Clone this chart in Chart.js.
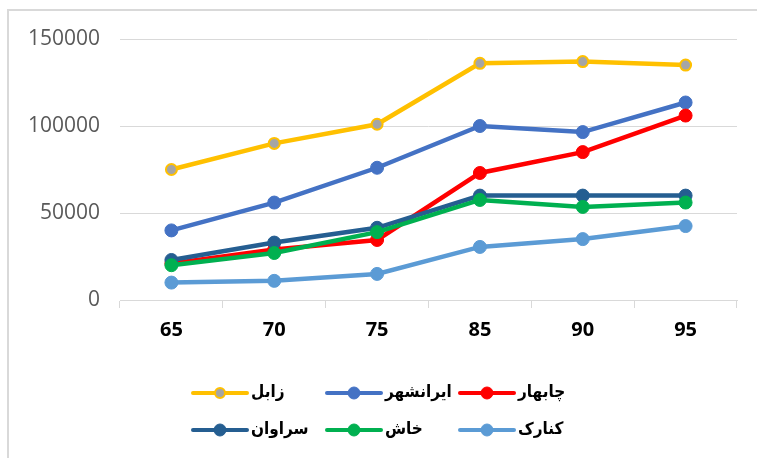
<!DOCTYPE html>
<html>
<head>
<meta charset="utf-8">
<script src="https://cdn.jsdelivr.net/npm/chart.js@4.4.1/dist/chart.umd.min.js"></script>
<style>
  body { margin: 0; background: #fff; }
  #wrap { position: relative; width: 757px; height: 458px; overflow: hidden; }
  #frame {
    position: absolute; left: 7px; top: 9px; width: 800px; height: 460px;
    border-left: 2px solid #d9d9d9; border-top: 2px solid #d9d9d9;
  }
  canvas { position: absolute; left: 0; top: 0; }
</style>
</head>
<body>
<div id="wrap">
  <div id="frame"></div>
  <canvas id="chart" width="757" height="458"></canvas>
</div>
<script>
// Years (x categories)
const years = ["65", "70", "75", "85", "90", "95"];

// Series values
const zabol = [75000, 90000, 101000, 136000, 137000, 135000];
const iranshahr = [40000, 56000, 76000, 100000, 96500, 113500];
const chabahar = [21000, 29000, 34500, 73000, 85000, 106000];
const saravan = [23000, 33000, 41500, 60000, 60000, 60000];
const khash = [20000, 27000, 39000, 57500, 53500, 56000];
const konarak = [10000, 11000, 15000, 30500, 35000, 42500];

const seriesNames = ["زابل", "ایرانشهر", "چابهار", "سراوان", "خاش", "کنارک"];
const seriesValues = [zabol, iranshahr, chabahar, saravan, khash, konarak];
const lineColors = ["#FFC000", "#4472C4", "#FF0000", "#255E91", "#00B050", "#5B9BD5"];

const yTicks = [0, 50000, 100000, 150000];

const datasets = seriesNames.map((name, i) => {
  const isZabol = i === 0;
  return {
    label: name,
    data: seriesValues[i],
    borderColor: lineColors[i],
    backgroundColor: lineColors[i],
    borderWidth: 4.5,
    pointRadius: isZabol ? 5.5 : 6.5,
    pointBorderWidth: isZabol ? 2 : 1,
    pointBackgroundColor: isZabol ? "#A5A5A5" : lineColors[i],
    pointBorderColor: lineColors[i],
    tension: 0,
    // later series sit on top, like the original
    order: seriesNames.length - i,
  };
});

// Legend laid out in fixed columns, two rows of three.
const gridLegend = {
  id: "gridLegend",
  afterDraw(chart) {
    const ctx = chart.ctx;
    const cols = [193, 327, 460];
    const rows = [393, 430];
    ctx.save();
    chart.data.datasets.forEach((ds, i) => {
      const x = cols[i % 3];
      const y = rows[Math.floor(i / 3)];
      ctx.strokeStyle = ds.borderColor;
      ctx.lineWidth = 4;
      ctx.lineCap = "round";
      ctx.beginPath();
      ctx.moveTo(x, y);
      ctx.lineTo(x + 54, y);
      ctx.stroke();
      ctx.beginPath();
      ctx.arc(x + 27, y, ds.pointBorderWidth > 1 ? 5 : 6, 0, Math.PI * 2);
      ctx.fillStyle = ds.pointBackgroundColor;
      ctx.fill();
      ctx.lineWidth = ds.pointBorderWidth;
      ctx.strokeStyle = ds.pointBorderColor;
      ctx.stroke();
      ctx.fillStyle = "#000";
      ctx.font = "bold 17px 'DejaVu Sans Condensed', 'DejaVu Sans'";
      ctx.textAlign = "left";
      ctx.textBaseline = "middle";
      ctx.fillText(ds.label, x + 58, y);
    });
    ctx.restore();
  },
};

new Chart(document.getElementById("chart"), {
  type: "line",
  data: { labels: years, datasets: datasets },
  options: {
    responsive: false,
    animation: false,
    layout: { padding: { left: 0, top: 39, right: 20, bottom: 0 } },
    plugins: {
      legend: { display: false },
      tooltip: { enabled: false },
    },
    scales: {
      x: {
        offset: true,
        grid: {
          offset: true,
          drawOnChartArea: false,
          drawTicks: true,
          tickLength: 8,
          color: "#d9d9d9",
        },
        border: { display: true, color: "#d9d9d9", width: 1 },
        ticks: {
          color: "#000",
          padding: 10,
          font: { family: "'Open Sans'", size: 20, weight: "bold" },
        },
        afterFit(scale) {
          scale.height = 158;
        },
      },
      y: {
        min: 0,
        max: 150000,
        afterBuildTicks(scale) {
          scale.ticks = yTicks.map((v) => ({ value: v }));
        },
        grid: { color: "#d9d9d9", drawTicks: false },
        border: { display: false },
        ticks: {
          color: "#595959",
          padding: 20,
          font: { family: "'Open Sans'", size: 21 },
          callback: (v) => String(v),
        },
        afterFit(scale) {
          scale.width = 120;
        },
      },
    },
  },
  plugins: [gridLegend],
});
</script>
</body>
</html>
